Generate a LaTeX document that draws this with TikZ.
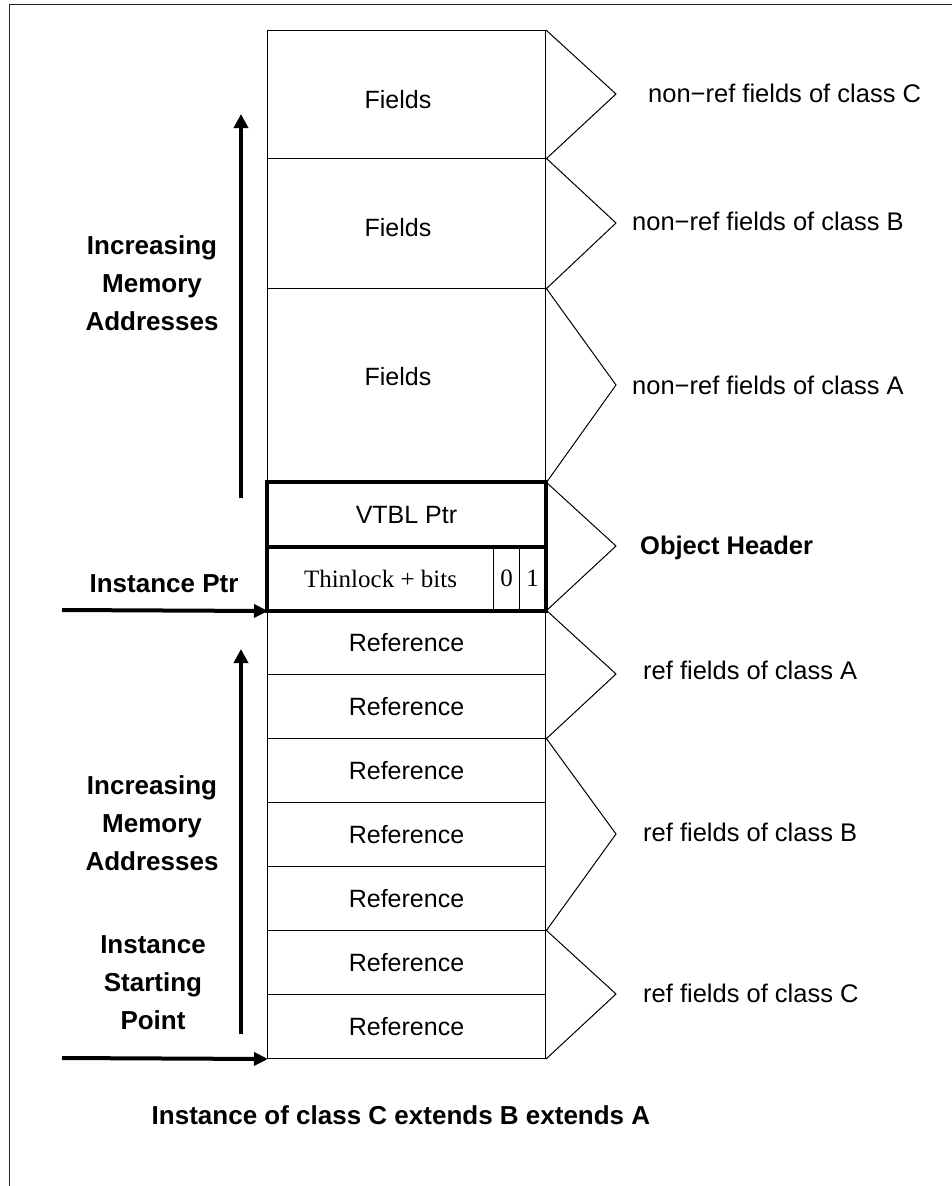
\documentclass[tikz,border=0pt]{standalone}
\usepackage{fontspec}
\setmainfont{Liberation Sans}
\newfontfamily\timesface{Liberation Serif}
\usetikzlibrary{arrows.meta}
\begin{document}
\begin{tikzpicture}[x=1pt,y=-1pt,
  cell/.style={draw, line width=1pt, minimum width=278pt, inner sep=0pt,
    anchor=north west, font=\fontsize{25}{30}\selectfont},
  celltext/.style={inner sep=0pt, font=\fontsize{25}{30}\selectfont},
  bitcell/.style={draw, line width=1pt, minimum width=26pt, minimum height=64pt,
    inner sep=0pt, anchor=north west, font=\timesface\fontsize{25}{30}\selectfont},
  heavy/.style={line width=4pt},
  brace/.style={line width=1pt, line join=miter},
  side/.style={anchor=west, inner sep=0pt, font=\fontsize{25.5}{30}\selectfont},
  sidebold/.style={side, font=\bfseries\fontsize{25.5}{30}\selectfont},
  leftlbl/.style={align=center, inner sep=0pt, font=\bfseries\fontsize{26}{38}\selectfont},
  growth/.style={line width=4pt, -{Triangle[length=14pt,width=14pt]}},
  ptr/.style={line width=4pt, -{Triangle[length=14pt,width=13pt]}, shorten >=-1pt}
]
\useasboundingbox (0,0) rectangle (952,1186);

% page frame (top and left edges)
\draw[line width=1.5pt, black!85] (9.5,1190) -- (9.5,4.5) -- (960,4.5);

% non-reference field blocks
\node[cell, minimum height=128pt] (fc) at (267,30)  {};
\node[cell, minimum height=130pt] (fb) at (267,158) {};
\node[cell, minimum height=194pt] (fa) at (267,288) {};
\node[celltext] (fct) at (398,100) {Fields};
\node[celltext] (fbt) at (398,228) {Fields};
\node[celltext] (fat) at (398,377) {Fields};

% object header
\node[cell, minimum height=64pt] (vt) at (267,482) {VTBL Ptr};
\node[cell, minimum width=226pt, minimum height=64pt,
      font=\timesface\fontsize{25}{30}\selectfont] (tl) at (267,546) {Thinlock + bits};
\node[bitcell] (b0) at (493,546) {0};
\node[bitcell] (b1) at (519,546) {1};
\draw[heavy] (vt.north west) rectangle (b1.south east);
\draw[heavy] (vt.south west) -- (vt.south east);

% reference slots
\node[cell, minimum height=64pt] (r1) at (267,610)  {Reference};
\node[cell, minimum height=64pt] (r2) at (267,674)  {Reference};
\node[cell, minimum height=64pt] (r3) at (267,738)  {Reference};
\node[cell, minimum height=64pt] (r4) at (267,802)  {Reference};
\node[cell, minimum height=64pt] (r5) at (267,866)  {Reference};
\node[cell, minimum height=64pt] (r6) at (267,930)  {Reference};
\node[cell, minimum height=64pt] (r7) at (267,994)  {Reference};

% chevron tips
\coordinate (tc) at (616,94);
\coordinate (tb) at (616,223);
\coordinate (ta) at (616,385);
\coordinate (th) at (616,546);
\coordinate (tra) at (616,674);
\coordinate (trb) at (616,834);
\coordinate (trc) at (616,994);

\draw[brace] (fc.north east) -- (tc) -- (fc.south east);
\draw[brace] (fb.north east) -- (tb) -- (fb.south east);
\draw[brace] (fa.north east) -- (ta) -- (fa.south east);
\draw[brace] (vt.north east) -- (th) -- (b1.south east);
\draw[brace] (r1.north east) -- (tra) -- (r2.south east);
\draw[brace] (r3.north east) -- (trb) -- (r5.south east);
\draw[brace] (r6.north east) -- (trc) -- (r7.south east);

% group labels
\node[side] (lc) at (648,93)  {non\textminus ref fields of class C};
\node[side] (lb) at (632,221) {non\textminus ref fields of class B};
\node[side] (la) at (632,385) {non\textminus ref fields of class A};
\node[sidebold] (lh) at (640,548) {Object Header};
\node[side] (lra) at (643,670) {ref fields of class A};
\node[side] (lrb) at (643,832) {ref fields of class B};
\node[side] (lrc) at (643,993) {ref fields of class C};

% growth direction arrows
\coordinate (ua) at (241,498);
\coordinate (ub) at (241,114);
\draw[growth] (ua) -- (ub);
\coordinate (la0) at (241,1034);
\coordinate (la1) at (241,649);
\draw[growth] (la0) -- (la1);

\node[leftlbl] (inc1) at (152,283) {Increasing\\Memory\\Addresses};
\node[leftlbl] (inc2) at (152,823) {Increasing\\Memory\\Addresses};
\node[leftlbl] (isp) at (153,983) {Instance\\Starting\\Point};
\node[leftlbl] (ipl) at (164,584) {Instance Ptr};

% pointers into the object
\coordinate (ip0) at (62,610);
\draw[ptr] (ip0) -- (tl.south west);
\coordinate (sp0) at (62,1058);
\draw[ptr] (sp0) -- (r7.south west);

% caption
\node[leftlbl] (cap) at (401,1115) {Instance of class C extends B extends A};
\end{tikzpicture}
\end{document}
